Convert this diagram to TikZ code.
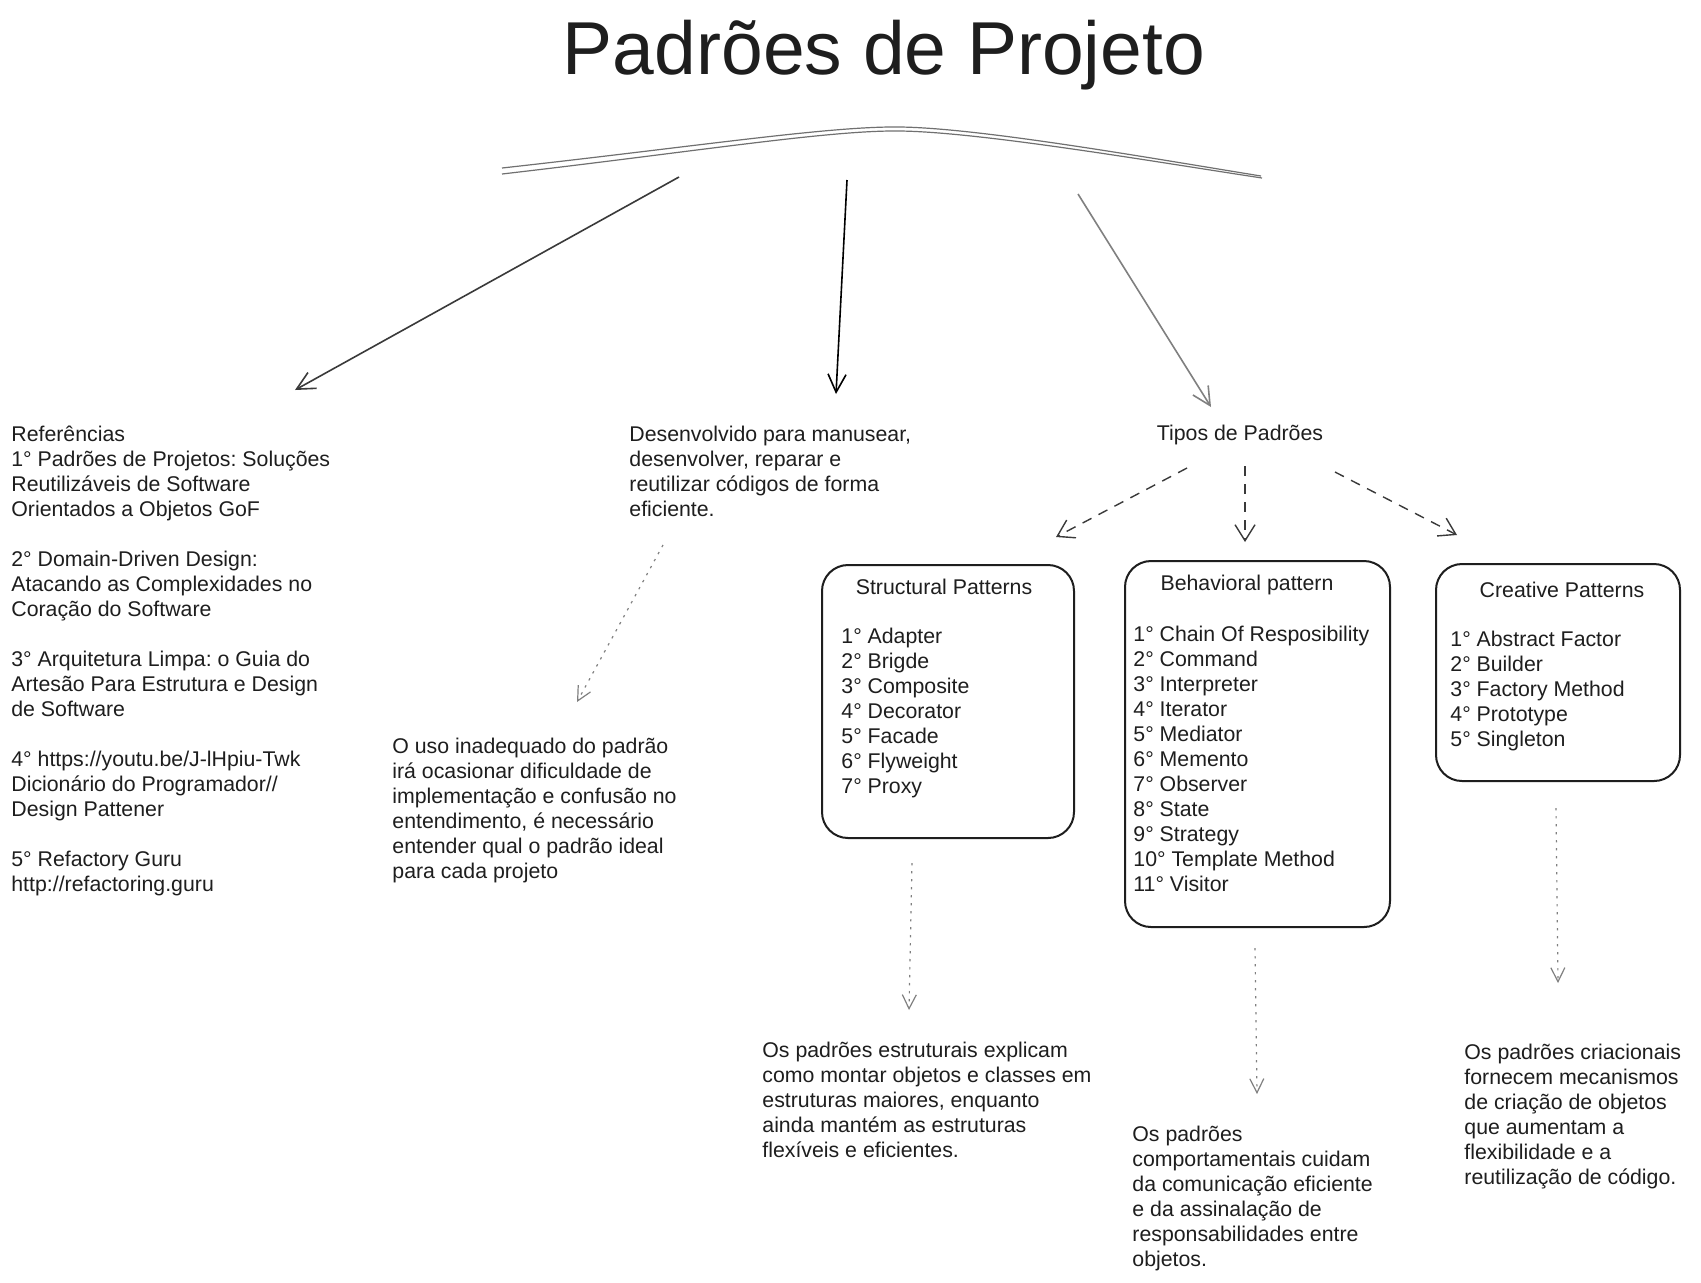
\documentclass[tikz,border=0pt]{standalone}
\usepackage{fontspec}
\setmainfont{Liberation Sans}
\usetikzlibrary{arrows.meta}
\definecolor{ink}{HTML}{1E1E1E}
\definecolor{arrowgray}{HTML}{3A3A3A}
\definecolor{curvegray}{HTML}{707070}
\frenchspacing
\begin{document}
\begin{tikzpicture}[x=0.5pt,y=-0.5pt,
  txt/.style={anchor=north west, inner sep=0pt, align=left, text=ink, font=\fontsize{10.65}{12.5}\selectfont},
  ctxt/.style={anchor=center, inner sep=0pt, text=ink, font=\fontsize{10.65}{12.5}\selectfont},
  pbox/.style={draw=ink, line width=1pt, rounded corners=13pt, inner sep=0pt, anchor=north west},
  solidarrow/.style={draw=arrowgray, line width=0.8pt, -{Straight Barb[length=9pt,width=9pt]}},
  dasharrow/.style={draw=arrowgray, line width=0.7pt, dash pattern=on 5pt off 4pt, -{Straight Barb[length=8pt,width=10pt]}},
  dotarrow/.style={draw=gray, line width=0.6pt, dash pattern=on 1.2pt off 2.8pt, -{Straight Barb[length=7pt,width=7pt]}},
  curveline/.style={draw=curvegray, line width=0.6pt},
]
\useasboundingbox (0,0) rectangle (1701,1282);
\fill[white] (0,0) rectangle (1701,1282);

% title
\node[anchor=center, inner sep=0pt, text=ink, font=\fontsize{37.5}{40}\selectfont] (title) at (884,55) {Padrões de Projeto};

% double curve
\coordinate (cl1) at (502,168);
\coordinate (cp1) at (900,127);
\coordinate (cr1) at (1261,176);
\coordinate (cl2) at (502,174);
\coordinate (cp2) at (900,131);
\coordinate (cr2) at (1262,178);
\draw[curveline] (cl1) .. controls (700,146) and (830,126) .. (cp1) .. controls (980,128) and (1150,158) .. (cr1);
\draw[curveline] (cl2) .. controls (700,151) and (830,130) .. (cp2) .. controls (980,132) and (1150,161) .. (cr2);

% main arrows
\coordinate (a1s) at (679,177);
\coordinate (a1e) at (295,390);
\coordinate (a2s) at (847,180);
\coordinate (a2e) at (836,394);
\coordinate (a3s) at (1078,194);
\coordinate (a3e) at (1211,407);
\draw[solidarrow] (a1s) -- (a1e);
\draw[solidarrow, draw=black] (a2s) -- (a2e);
\draw[solidarrow, draw=gray] (a3s) -- (a3e);

% references
\node[txt] (refs) at (11,423.5) {\strut Referências\\
1° Padrões de Projetos: Soluções\\
Reutilizáveis de Software\\
Orientados a Objetos GoF\\[12.5pt]
2° Domain-Driven Design:\\
Atacando as Complexidades no\\
Coração do Software\\[12.5pt]
3° Arquitetura Limpa: o Guia do\\
Artesão Para Estrutura e Design\\
de Software\\[12.5pt]
4° https://youtu.be/J-lHpiu-Twk\\
Dicionário do Programador//\\
Design Pattener\\[12.5pt]
5° Refactory Guru\\
http://refactoring.guru};

% desenvolvido
\node[txt] (desenv) at (629,423.5) {\strut Desenvolvido para manusear,\\
desenvolver, reparar e\\
reutilizar códigos de forma\\
eficiente.};

\coordinate (d1s) at (663,545);
\coordinate (d1e) at (577,702);
\draw[dotarrow] (d1s) -- (d1e);

\node[txt] (uso) at (392,735.5) {\strut O uso inadequado do padrão\\
irá ocasionar dificuldade de\\
implementação e confusão no\\
entendimento, é necessário\\
entender qual o padrão ideal\\
para cada projeto};

% tipos
\node[ctxt] (tipos) at (1240,435) {Tipos de Padrões};
\coordinate (t1s) at (1187,468);
\coordinate (t1e) at (1056,537);
\coordinate (t2s) at (1245,466);
\coordinate (t2e) at (1245,542);
\coordinate (t3s) at (1335,472);
\coordinate (t3e) at (1457,535);
\draw[dasharrow] (t1s) -- (t1e);
\draw[dasharrow] (t2s) -- (t2e);
\draw[dasharrow] (t3s) -- (t3e);

% structural box
\node[pbox, minimum width=126pt, minimum height=136.5pt] (sbox) at (821,564) {};
\node[ctxt] (stitle) at (944,587) {Structural Patterns};
\node[txt] (sitems) at (841,625.5) {\strut 1° Adapter\\
2° Brigde\\
3° Composite\\
4° Decorator\\
5° Facade\\
6° Flyweight\\
7° Proxy};

% behavioral box
\node[pbox, minimum width=132.5pt, minimum height=183pt] (bbox) at (1124,560) {};
\node[ctxt] (btitle) at (1247,585) {Behavioral pattern};
\node[txt] (bitems) at (1133,623.5) {\strut 1° Chain Of Resposibility\\
2° Command\\
3° Interpreter\\
4° Iterator\\
5° Mediator\\
6° Memento\\
7° Observer\\
8° State\\
9° Strategy\\
10° Template Method\\
11° Visitor};

% creative box
\node[pbox, minimum width=122pt, minimum height=108.5pt] (cbox) at (1435,563) {};
\node[ctxt] (ctitle) at (1562,590) {Creative Patterns};
\node[txt] (citems) at (1450,628.5) {\strut 1° Abstract Factor\\
2° Builder\\
3° Factory Method\\
4° Prototype\\
5° Singleton};

% dotted arrows below boxes
\coordinate (s1s) at (912,863);
\coordinate (s1e) at (909,1010);
\coordinate (b1s) at (1255,948);
\coordinate (b1e) at (1257,1094);
\coordinate (c1s) at (1556,808);
\coordinate (c1e) at (1558,983);
\draw[dotarrow] (s1s) -- (s1e);
\draw[dotarrow] (b1s) -- (b1e);
\draw[dotarrow] (c1s) -- (c1e);

% descriptions
\node[txt] (sdesc) at (762,1039.5) {\strut Os padrões estruturais explicam\\
como montar objetos e classes em\\
estruturas maiores, enquanto\\
ainda mantém as estruturas\\
flexíveis e eficientes.};

\node[txt] (bdesc) at (1132,1124) {\strut Os padrões\\
comportamentais cuidam\\
da comunicação eficiente\\
e da assinalação de\\
responsabilidades entre\\
objetos.};

\node[txt] (cdesc) at (1464,1042) {\strut Os padrões criacionais\\
fornecem mecanismos\\
de criação de objetos\\
que aumentam a\\
flexibilidade e a\\
reutilização de código.};
\end{tikzpicture}
\end{document}
